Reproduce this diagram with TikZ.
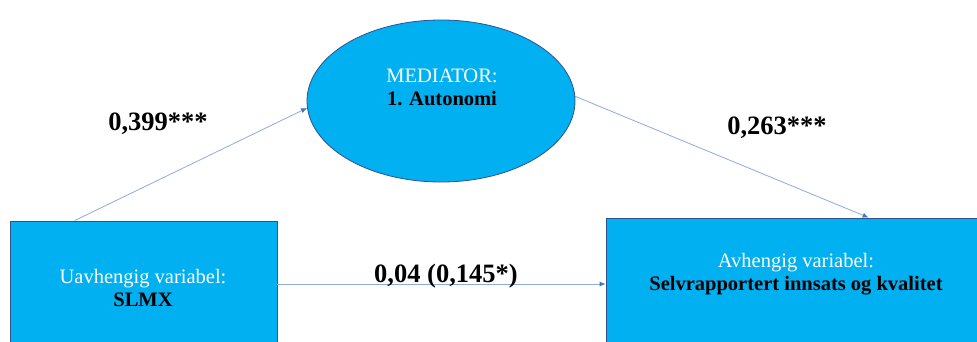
\documentclass[tikz,border=0pt]{standalone}
\usepackage{fontspec}
\setmainfont{Liberation Serif}
\usetikzlibrary{shapes.geometric,arrows.meta}
\definecolor{boxfill}{HTML}{00B0F0}
\definecolor{boxline}{HTML}{2F528F}
\definecolor{arrline}{HTML}{8FAADC}
\definecolor{arrtip}{HTML}{4472C4}
\tikzset{
  varbox/.style={draw=boxline, line width=0.8pt, fill=boxfill, inner sep=0pt},
  boxtext/.style={align=center, font=\fontsize{20.5}{23}\selectfont, inner sep=0pt},
  coef/.style={font=\fontsize{26.5}{30}\selectfont\bfseries, inner sep=0pt},
  arr/.style={draw=arrline, line width=0.8pt, -{Latex[length=6pt,width=5pt,color=arrtip]}}
}
\begin{document}
\begin{tikzpicture}[x=1pt,y=-1pt]
\useasboundingbox (0,0) rectangle (977,342);
\clip (0,0) rectangle (977,342);
\fill[white] (0,0) rectangle (977,342);
% boxes
\node[varbox, minimum width=267pt, minimum height=139pt] (lbox) at (143.5,290.5) {};
\node[varbox, minimum width=384pt, minimum height=142pt] (rbox) at (798,289) {};
\node[varbox, ellipse, minimum width=268pt, minimum height=162pt] (med) at (441,101) {};
% texts
\node[boxtext] (ltext) at (143,288) {\textcolor{white}{Uavhengig variabel:}\\\textbf{SLMX}};
\node[boxtext] (rtext) at (796,274.5) {\textcolor{white}{Avhengig variabel:}\\\textbf{Selvrapportert innsats og kvalitet}};
\node[boxtext] (mtext) at (442,87.5) {\textcolor{white}{MEDIATOR:}\\\textbf{1. Autonomi}};
% connectors
\draw[arr] ([xshift=65pt]lbox.north west) -- (med.183);
\draw[arr] (med.2) -- ([xshift=263pt]rbox.north west);
\draw[arr] (lbox.east |- 0,284) -- (rbox.west |- 0,284);
% coefficients
\node[coef] (c1) at (158,124) {0,399***};
\node[coef] (c2) at (777,128) {0,263***};
\node[coef] (c3) at (446,276) {0,04 (0,145*)};
\end{tikzpicture}
\end{document}
